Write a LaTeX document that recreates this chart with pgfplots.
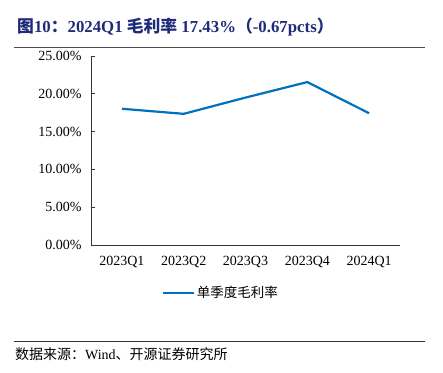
\documentclass[border=0pt]{standalone}
\usepackage{fontspec}
\setmainfont{Liberation Serif}
\newfontfamily\cjk{Noto Sans CJK SC}
\usepackage{pgfplots}
\pgfplotsset{compat=1.18}
\definecolor{titleblue}{HTML}{1F2A7A}
\definecolor{lineblue}{HTML}{0070C0}
\begin{document}
\begin{tikzpicture}[x=1pt,y=1pt]
\path[use as bounding box] (0,0) rectangle (443,372);
\node[anchor=base west, text=titleblue, font=\fontsize{16.8}{19}\selectfont\bfseries, inner sep=0] at (17,339) {{\cjk 图}10{\cjk ：}2024Q1 {\cjk 毛利率} 17.43\%{\cjk （}-0.67pcts{\cjk ）}};
\draw[black!70, line width=0.8pt] (14,325) -- (425,325);
\begin{axis}[
  at={(91pt,127pt)}, anchor=origin,
  scale only axis, width=309pt, height=189pt,
  xmin=0, xmax=5, ymin=0, ymax=25,
  axis lines=left, axis line style={-, black!80, line width=0.6pt},
  xtick={0.5,1.5,2.5,3.5,4.5},
  xticklabels={2023Q1,2023Q2,2023Q3,2023Q4,2024Q1},
  major x tick style={draw=none},
  extra x ticks={0,1,2,3,4,5},
  extra x tick labels={},
  extra x tick style={tick style={black!80, line width=0.6pt}, major tick length=3.5pt, tick align=outside},
  ytick={0,5,10,15,20,25},
  ytick style={black!80, line width=0.6pt},
  yticklabel={\pgfmathprintnumber[fixed,fixed zerofill,precision=2]{\tick}\%},
  ytick align=inside, major tick length=4pt,
  tick label style={font=\fontsize{14}{16}\selectfont},
  /pgf/number format/assume math mode=true,
  xticklabel style={yshift=-6pt},
  yticklabel style={xshift=-6pt},
  legend style={at={(axis description cs:0.42,-0.254)}, anchor=center, draw=none, fill=none, font=\fontsize{13.5}{15}\selectfont\cjk, legend cell align=left},
  legend image code/.code={\draw[#1, line width=2.2pt] (0pt,0pt) -- (31pt,0pt);},
  clip=false,
]
\addplot[lineblue, line width=2.2pt] coordinates {(0.5,18.02) (1.5,17.35) (2.5,19.5) (3.5,21.55) (4.5,17.43)};
\addlegendentry{单季度毛利率}
\end{axis}
\draw[black!80, line width=0.8pt] (14,31) -- (425,31);
\node[anchor=base west, font=\fontsize{14}{16}\selectfont, inner sep=0] at (15,13) {{\cjk 数据来源：}Wind{\cjk 、开源证券研究所}};
\end{tikzpicture}
\end{document}
